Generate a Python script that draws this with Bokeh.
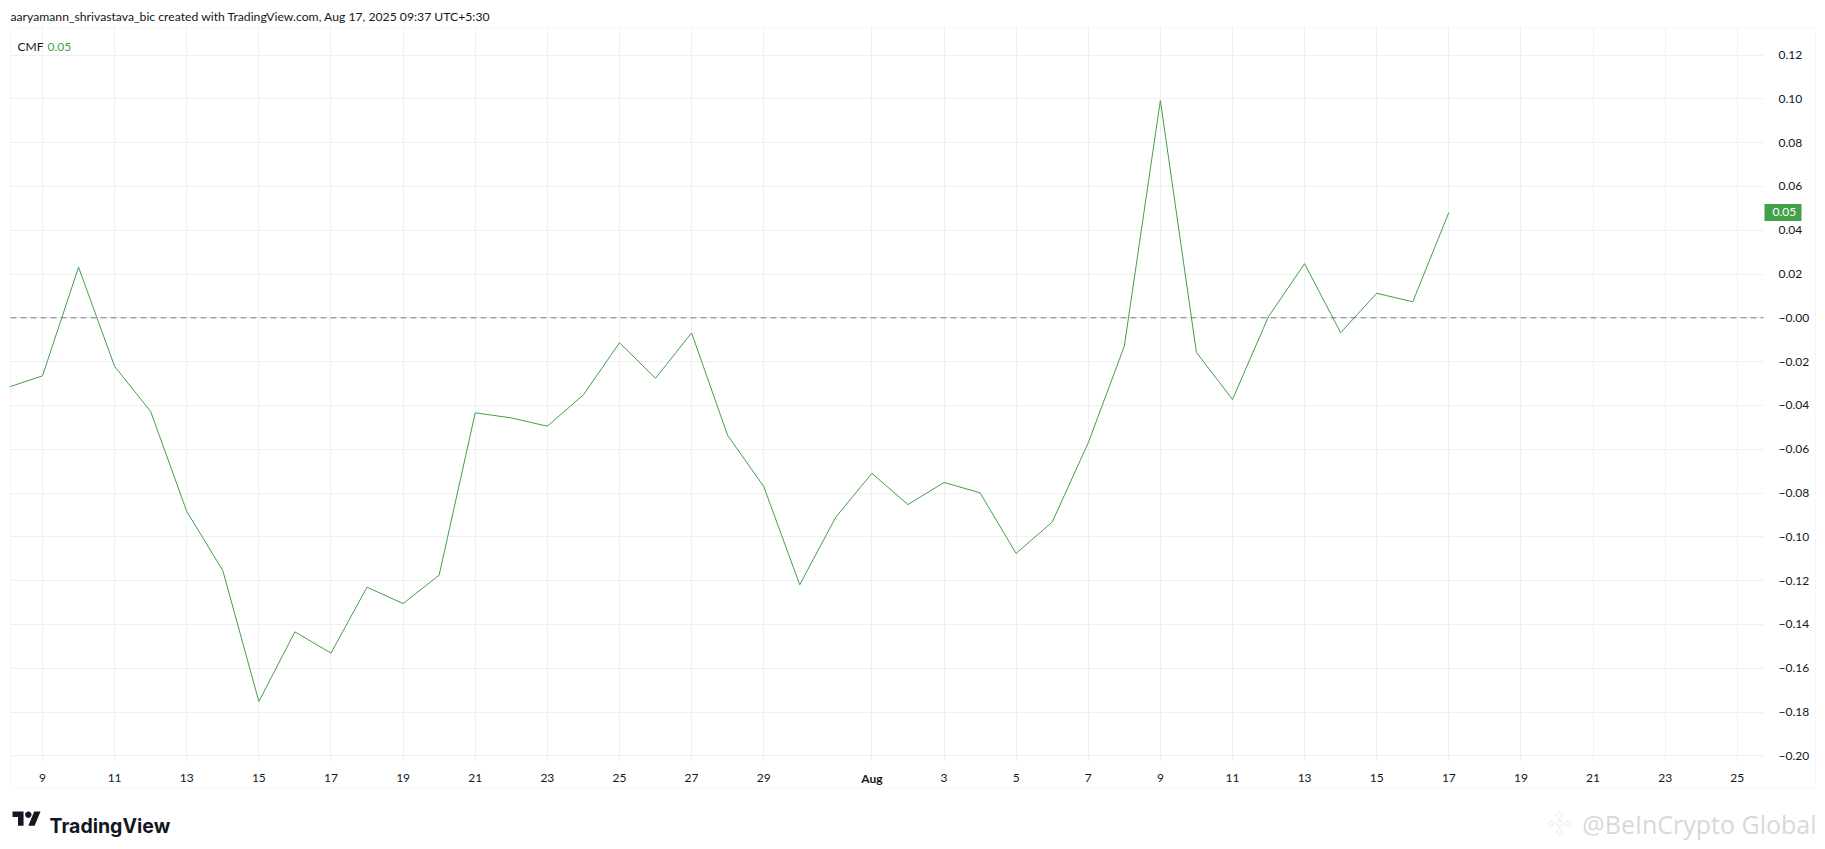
import math
import pandas as pd
from bokeh.plotting import figure
from bokeh.models import (Range1d, FixedTicker, Label, BoxAnnotation, PolyAnnotation,
                          ColumnDataSource)
from bokeh.embed import file_html
from bokeh.resources import INLINE

# ---------------- data ----------------
dates = pd.date_range("2025-07-08", "2025-08-17", freq="D")
cmf = [-0.032, -0.0265, 0.0231, -0.0222, -0.0428, -0.0884, -0.1154, -0.1752,
       -0.1434, -0.1531, -0.1230, -0.1305, -0.1175, -0.0434, -0.0457, -0.0495,
       -0.0352, -0.0114, -0.0276, -0.0069, -0.0537, -0.0770, -0.1219, -0.0910,
       -0.0710, -0.0853, -0.0752, -0.0799, -0.1076, -0.0933, -0.0571, -0.0130,
       0.0992, -0.0158, -0.0373, 0.0006, 0.0247, -0.0068, 0.0112, 0.0073, 0.0481]

x_tick_dates = ["2025-07-09", "2025-07-11", "2025-07-13", "2025-07-15", "2025-07-17",
                "2025-07-19", "2025-07-21", "2025-07-23", "2025-07-25", "2025-07-27",
                "2025-07-29", "2025-08-01", "2025-08-03", "2025-08-05", "2025-08-07",
                "2025-08-09", "2025-08-11", "2025-08-13", "2025-08-15", "2025-08-17",
                "2025-08-19", "2025-08-21", "2025-08-23", "2025-08-25"]
x_tick_labels = ["9", "11", "13", "15", "17", "19", "21", "23", "25", "27", "29",
                 "Aug", "3", "5", "7", "9", "11", "13", "15", "17", "19", "21", "23", "25"]
month_tick_date = "2025-08-01"
month_tick_label = "Aug"

y_ticks = [-0.20, -0.18, -0.16, -0.14, -0.12, -0.10, -0.08, -0.06, -0.04, -0.02,
           0.0, 0.02, 0.04, 0.06, 0.08, 0.10, 0.12]
y_tick_labels = ["\u22120.20", "\u22120.18", "\u22120.16", "\u22120.14", "\u22120.12",
                 "\u22120.10", "\u22120.08", "\u22120.06", "\u22120.04", "\u22120.02",
                 "\u22120.00", "0.02", "0.04", "0.06", "0.08", "0.10", "0.12"]

header_text = "aaryamann_shrivastava_bic created with TradingView.com, Aug 17, 2025 09:37 UTC+5:30"
indicator_name = "CMF"
last_label = "0.05"
brand_text = "TradingView"
watermark_text = "@BeInCrypto Global"

# ---------------- helpers ----------------
EPOCH = pd.Timestamp("1970-01-01")
DAY = 86400000.0


def to_ms(d):
    return int((pd.Timestamp(d) - EPOCH) // pd.Timedelta("1ms"))


x_ms = [to_ms(d) for d in x_tick_dates]
first_tick = x_ms[0]

GREEN = "#43a047"
TEXT = "#131722"
GRID = "#f0f0f2"
BORDER = "#e0e3eb"
FONT = "Lato"

W, H = 1825, 848
FL, FT = 9, 26            # frame left / top on the page
PX_DAY = 36.06            # pixels per day
PX_UNIT = 2190.0          # pixels per CMF unit
X0_PAGE, Y0_PAGE = 42, 317.3   # page position of first tick / zero level


def sx(page_x):
    return page_x - FL


def sy(page_y):
    return H - page_y


x_start = first_tick + (FL - X0_PAGE) / PX_DAY * DAY
x_end = first_tick + (W - X0_PAGE) / PX_DAY * DAY
x_grid_start = first_tick + (10 - X0_PAGE) / PX_DAY * DAY
x_grid_end = first_tick + (1763 - X0_PAGE) / PX_DAY * DAY
y_top = (Y0_PAGE - FT) / PX_UNIT
y_bottom = (Y0_PAGE - H) / PX_UNIT
y_grid_bottom = (Y0_PAGE - 761) / PX_UNIT

src = ColumnDataSource(dict(date=dates, cmf=cmf))

p = figure(width=W, height=H, x_axis_type="datetime", y_axis_location="right",
           x_range=Range1d(x_start, x_end), y_range=Range1d(y_bottom, y_top),
           output_backend="svg", toolbar_location=None,
           min_border_left=FL, min_border_right=0, min_border_top=FT,
           min_border_bottom=0, title=header_text)
p.outline_line_color = None
p.background_fill_color = "white"
p.border_fill_color = "white"

p.title.align = "left"
p.title.offset = 1
p.title.text_font = FONT
p.title.text_font_size = "12.2px"
p.title.text_font_style = "normal"
p.title.text_color = TEXT
p.title.standoff = 5

# grid lines, limited to the pane area
grid_ok = True
try:
    p.ygrid.cross_bounds = (x_grid_start, x_grid_end)
    p.xgrid.cross_bounds = (y_grid_bottom, y_top)
except Exception:
    grid_ok = False
if grid_ok:
    p.xgrid.grid_line_color = GRID
    p.ygrid.grid_line_color = GRID
else:
    p.xgrid.visible = False
    p.ygrid.visible = False
    p.segment(x0=[x_grid_start] * len(y_ticks), x1=[x_grid_end] * len(y_ticks),
              y0=y_ticks, y1=y_ticks, line_color=GRID, line_width=1)
    p.segment(x0=x_ms, x1=x_ms, y0=[y_grid_bottom] * len(x_ms), y1=[y_top] * len(x_ms),
              line_color=GRID, line_width=1)

xa = p.xaxis[0]
xa.ticker = FixedTicker(ticks=x_ms, minor_ticks=[])
overrides = {int(m): lab for m, lab in zip(x_ms, x_tick_labels)}
overrides[to_ms(month_tick_date)] = ""
xa.major_label_overrides = overrides
xa.axis_line_color = None
xa.major_tick_line_color = None
xa.minor_tick_line_color = None
xa.major_label_standoff = 767 - H
xa.major_label_text_font = FONT
xa.major_label_text_font_size = "12px"
xa.major_label_text_color = TEXT

ya = p.yaxis[0]
ya.ticker = FixedTicker(ticks=y_ticks, minor_ticks=[])
ya.major_label_overrides = {float(t): lab for t, lab in zip(y_ticks, y_tick_labels)}
ya.axis_line_color = None
ya.major_tick_line_color = None
ya.minor_tick_line_color = None
ya.major_label_standoff = 1772 - W
ya.major_label_text_font = FONT
ya.major_label_text_font_size = "12px"
ya.major_label_text_color = TEXT

# border around pane + axes
p.add_layout(BoxAnnotation(left=sx(10), right=sx(1815), top=sy(27), bottom=sy(788),
                           left_units="screen", right_units="screen",
                           top_units="screen", bottom_units="screen",
                           fill_alpha=0, line_color=BORDER, line_width=1))

# bold month label on the time axis
p.add_layout(Label(x=to_ms(month_tick_date), y=sy(778), x_units="data", y_units="screen",
                   text=month_tick_label, text_color=TEXT, text_font=FONT,
                   text_font_size="12px", text_font_style="bold",
                   text_align="center", text_baseline="alphabetic"))

# zero level
p.segment(x0=[x_grid_start], x1=[x_grid_end], y0=[0.0], y1=[0.0], line_color="#787b86",
          line_dash="6 4", line_width=1)

p.line(x="date", y="cmf", source=src, line_color=GREEN, line_width=1)

# last value badge on price axis
last = cmf[-1]
half = 8.5 / PX_UNIT
p.add_layout(BoxAnnotation(left=sx(1764), right=sx(1801), left_units="screen",
                           right_units="screen", top=last + half, bottom=last - half,
                           fill_color=GREEN, fill_alpha=1, line_color=None))
p.add_layout(Label(x=sx(1772), y=last, x_units="screen", y_units="data", text=last_label,
                   text_color="white", text_font=FONT, text_font_size="12px",
                   text_baseline="middle"))

# legend
p.add_layout(Label(x=sx(17), y=sy(46), x_units="screen", y_units="screen",
                   text=indicator_name, text_color=TEXT, text_font=FONT,
                   text_font_size="12px", text_baseline="alphabetic"))
p.add_layout(Label(x=sx(47), y=sy(46), x_units="screen", y_units="screen",
                   text=last_label, text_color=GREEN, text_font=FONT,
                   text_font_size="12px", text_baseline="alphabetic"))

# ---------------- footer: TradingView logo ----------------
S = 0.79
shape1 = [(14, 22), (7, 22), (7, 11), (0, 11), (0, 4), (14, 4)]
shape2 = [(28, 22), (20, 22), (27.5, 4), (35.5, 4)]
circle = [(20 + 4 * math.cos(a * math.pi / 18), 8 + 4 * math.sin(a * math.pi / 18))
          for a in range(36)]
for shp in (shape1, shape2, circle):
    p.add_layout(PolyAnnotation(xs=[sx(12 + S * a) for a, b in shp],
                                ys=[sy(811 + S * (b - 4)) for a, b in shp],
                                xs_units="screen", ys_units="screen",
                                fill_color=TEXT, fill_alpha=1, line_color=None))
p.add_layout(Label(x=sx(49), y=sy(825), x_units="screen", y_units="screen",
                   text=brand_text, text_color=TEXT, text_font="Inter",
                   text_font_style="bold", text_font_size="19.5px",
                   text_baseline="alphabetic"))

# watermark icon and text
cx, cy = 1559, 823
for (ox, oy, r) in [(0, 0, 3.5), (0, -8.5, 3.5), (0, 8.5, 3.5), (-8.5, 0, 3), (8.5, 0, 3)]:
    pts = [(cx + ox, cy + oy - r), (cx + ox + r, cy + oy), (cx + ox, cy + oy + r),
           (cx + ox - r, cy + oy)]
    p.add_layout(PolyAnnotation(xs=[sx(a) for a, b in pts], ys=[sy(b) for a, b in pts],
                                xs_units="screen", ys_units="screen",
                                fill_alpha=0, line_color="#cfcfcf", line_width=1.2))
p.add_layout(Label(x=sx(1816), y=sy(823), x_units="screen", y_units="screen",
                   text=watermark_text, text_color="#d8d8d8", text_font="Open Sans",
                   text_font_size="25px", text_align="right", text_baseline="middle"))

open("out.html", "w").write(file_html(p, INLINE))
